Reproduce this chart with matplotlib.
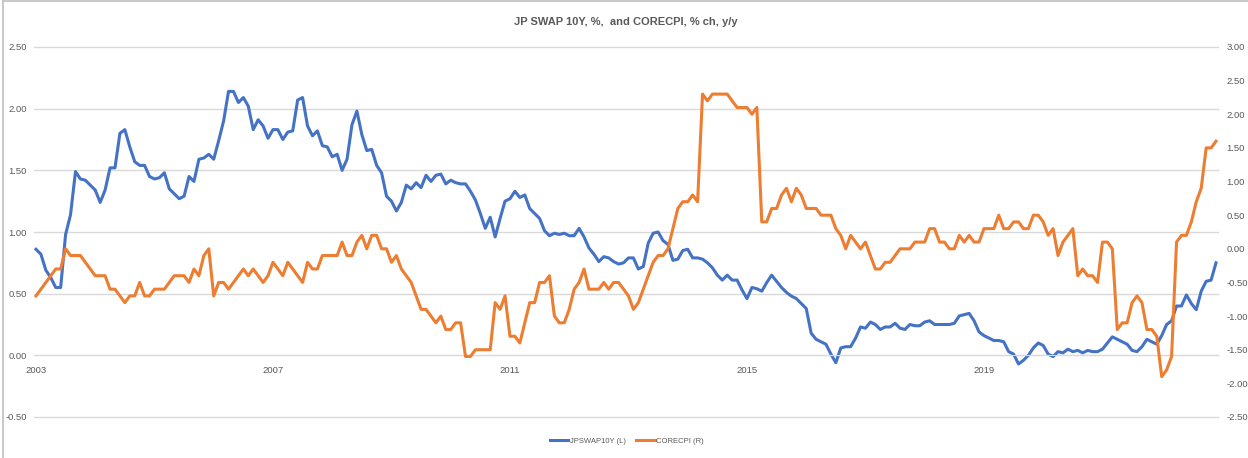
import numpy as np
import pandas as pd
import matplotlib
matplotlib.use("Agg")
import matplotlib.pyplot as plt
from matplotlib.lines import Line2D
from matplotlib.ticker import FormatStrFormatter

# --------------------------------------------------
# DATOS (mensuales, ene-2003 .. dic-2022)
# --------------------------------------------------
months = pd.date_range("2003-01-01", periods=240, freq="MS")

jpswap10y = [
    0.86, 0.82, 0.69, 0.63, 0.55, 0.55, 0.98, 1.14, 1.49, 1.43, 1.42, 1.38,
    1.34, 1.24, 1.34, 1.52, 1.52, 1.80, 1.83, 1.69, 1.57, 1.54, 1.54, 1.45,
    1.43, 1.44, 1.48, 1.35, 1.31, 1.27, 1.29, 1.45, 1.41, 1.59, 1.60, 1.63,
    1.59, 1.74, 1.90, 2.14, 2.14, 2.05, 2.09, 2.02, 1.83, 1.91, 1.86, 1.76,
    1.83, 1.83, 1.75, 1.81, 1.82, 2.07, 2.09, 1.86, 1.78, 1.82, 1.70, 1.69,
    1.61, 1.63, 1.50, 1.59, 1.87, 1.98, 1.79, 1.66, 1.67, 1.54, 1.48, 1.29,
    1.25, 1.17, 1.24, 1.38, 1.35, 1.40, 1.36, 1.46, 1.41, 1.46, 1.47, 1.39,
    1.42, 1.40, 1.39, 1.39, 1.33, 1.26, 1.15, 1.03, 1.12, 0.96, 1.11, 1.25,
    1.27, 1.33, 1.28, 1.30, 1.19, 1.15, 1.11, 1.01, 0.97, 0.99, 0.98, 0.99,
    0.97, 0.97, 1.03, 0.96, 0.87, 0.82, 0.76, 0.80, 0.79, 0.76, 0.74, 0.75,
    0.79, 0.79, 0.70, 0.72, 0.91, 0.99, 1.00, 0.93, 0.90, 0.77, 0.78, 0.85,
    0.86, 0.79, 0.79, 0.78, 0.75, 0.71, 0.65, 0.61, 0.65, 0.61, 0.61, 0.53,
    0.46, 0.55, 0.54, 0.52, 0.59, 0.65, 0.60, 0.55, 0.51, 0.48, 0.46, 0.42,
    0.38, 0.18, 0.13, 0.11, 0.09, 0.01, -0.06, 0.06, 0.07, 0.07, 0.14, 0.23,
    0.22, 0.27, 0.25, 0.21, 0.23, 0.23, 0.26, 0.22, 0.21, 0.25, 0.24, 0.24,
    0.27, 0.28, 0.25, 0.25, 0.25, 0.25, 0.26, 0.32, 0.33, 0.34, 0.28, 0.19,
    0.16, 0.14, 0.12, 0.12, 0.11, 0.03, 0.01, -0.07, -0.04, 0.00, 0.06, 0.10,
    0.08, 0.01, -0.01, 0.03, 0.02, 0.05, 0.03, 0.04, 0.02, 0.04, 0.03, 0.03,
    0.05, 0.10, 0.15, 0.13, 0.11, 0.09, 0.04, 0.03, 0.07, 0.13, 0.11, 0.09,
    0.16, 0.25, 0.28, 0.40, 0.40, 0.49, 0.42, 0.37, 0.52, 0.60, 0.61, 0.75,
]

corecpi = [
    -0.7, -0.6, -0.5, -0.4, -0.3, -0.3, 0.0, -0.1, -0.1, -0.1, -0.2, -0.3,
    -0.4, -0.4, -0.4, -0.6, -0.6, -0.7, -0.8, -0.7, -0.7, -0.5, -0.7, -0.7,
    -0.6, -0.6, -0.6, -0.5, -0.4, -0.4, -0.4, -0.5, -0.3, -0.4, -0.1, 0.0,
    -0.7, -0.5, -0.5, -0.6, -0.5, -0.4, -0.3, -0.4, -0.3, -0.4, -0.5, -0.4,
    -0.2, -0.3, -0.4, -0.2, -0.3, -0.4, -0.5, -0.2, -0.3, -0.3, -0.1, -0.1,
    -0.1, -0.1, 0.1, -0.1, -0.1, 0.1, 0.2, 0.0, 0.2, 0.2, 0.0, 0.0,
    -0.2, -0.1, -0.3, -0.4, -0.5, -0.7, -0.9, -0.9, -1.0, -1.1, -1.0, -1.2,
    -1.2, -1.1, -1.1, -1.6, -1.6, -1.5, -1.5, -1.5, -1.5, -0.8, -0.9, -0.7,
    -1.3, -1.3, -1.4, -1.1, -0.8, -0.8, -0.5, -0.5, -0.4, -1.0, -1.1, -1.1,
    -0.9, -0.6, -0.5, -0.3, -0.6, -0.6, -0.6, -0.5, -0.6, -0.5, -0.5, -0.6,
    -0.7, -0.9, -0.8, -0.6, -0.4, -0.2, -0.1, -0.1, 0.0, 0.3, 0.6, 0.7,
    0.7, 0.8, 0.7, 2.3, 2.2, 2.3, 2.3, 2.3, 2.3, 2.2, 2.1, 2.1,
    2.1, 2.0, 2.1, 0.4, 0.4, 0.6, 0.6, 0.8, 0.9, 0.7, 0.9, 0.8,
    0.6, 0.6, 0.6, 0.5, 0.5, 0.5, 0.3, 0.2, 0.0, 0.2, 0.1, 0.0,
    0.1, -0.1, -0.3, -0.3, -0.2, -0.2, -0.1, 0.0, 0.0, 0.0, 0.1, 0.1,
    0.1, 0.3, 0.3, 0.1, 0.1, 0.0, 0.0, 0.2, 0.1, 0.2, 0.1, 0.1,
    0.3, 0.3, 0.3, 0.5, 0.3, 0.3, 0.4, 0.4, 0.3, 0.3, 0.5, 0.5,
    0.4, 0.2, 0.3, -0.1, 0.1, 0.2, 0.3, -0.4, -0.3, -0.4, -0.4, -0.5,
    0.1, 0.1, 0.0, -1.2, -1.1, -1.1, -0.8, -0.7, -0.8, -1.2, -1.2, -1.3,
    -1.9, -1.8, -1.6, 0.1, 0.2, 0.2, 0.4, 0.7, 0.9, 1.5, 1.5, 1.6,
]

year_labels = ["2003", "2007", "2011", "2015", "2019"]

# --------------------------------------------------
# ESTILO
# --------------------------------------------------
plt.rcParams['font.family'] = ['Liberation Sans', 'DejaVu Sans']
GRIS_TXT  = '#595959'
GRIS_GRID = '#D9D9D9'
AZUL      = '#4472C4'
NARANJA   = '#ED7D31'

W, H = 1248, 458
fig = plt.figure(figsize=(W / 100, H / 100), dpi=100)
fig.patch.set_facecolor('white')

ax  = fig.add_axes([34 / W, 1 - 417 / H, (1218 - 34) / W, 370 / H])
ax2 = ax.twinx()

x = np.arange(len(months))
ax.plot(x, jpswap10y, color=AZUL, lw=2.2, label='JPSWAP10Y (L)',
        solid_joinstyle='round')
ax2.plot(x, corecpi, color=NARANJA, lw=2.2, label='CORECPI (R)',
         solid_joinstyle='round')

# -- ejes Y --
ax.set_ylim(-0.5, 2.5)
ax.set_yticks(np.arange(-0.5, 2.51, 0.5))
ax.yaxis.set_major_formatter(FormatStrFormatter('%.2f'))
ax2.set_ylim(-2.5, 3.0)
ax2.set_yticks(np.arange(-2.5, 3.01, 0.5))
ax2.yaxis.set_major_formatter(FormatStrFormatter('%.2f'))

ax.grid(axis='y', color=GRIS_GRID, lw=1.0)
for gl in ax.get_ygridlines():
    gl.set_clip_on(False)
ax.set_axisbelow(True)

# -- eje X (categorías), cruza en 0 --
pos = [i for i, d in enumerate(months) if d.month == 1 and (d.year - 2003) % 4 == 0]
ax.set_xticks(pos)
ax.set_xticklabels(year_labels)
ax.set_xlim(-0.4, len(months) - 0.6)
ax.spines['bottom'].set_position(('data', 0))
ax.spines['bottom'].set_color(GRIS_GRID)

for a in (ax, ax2):
    for s in ('top', 'left', 'right'):
        a.spines[s].set_visible(False)
ax2.spines['bottom'].set_visible(False)

ax.tick_params(axis='x', length=0, pad=8, labelsize=6.8, labelcolor=GRIS_TXT)
ax.tick_params(axis='y', length=0, pad=5, labelsize=6.8, labelcolor=GRIS_TXT)
ax2.tick_params(axis='y', length=0, pad=6, labelsize=6.8, labelcolor=GRIS_TXT)

# -- título --
fig.text(626 / W, 1 - 22 / H, 'JP SWAP 10Y, %,  and CORECPI, % ch, y/y',
         ha='center', va='center', fontsize=8, fontweight='bold', color=GRIS_TXT)

# -- leyenda --
h1, l1 = ax.get_legend_handles_labels()
h2, l2 = ax2.get_legend_handles_labels()
fig.legend(h1 + h2, l1 + l2, loc='center', bbox_to_anchor=(627 / W, 1 - 441 / H),
           ncol=2, frameon=False, fontsize=5.5, labelcolor=GRIS_TXT,
           handlelength=2.4, handletextpad=0.2, columnspacing=1.4)

# -- borde del gráfico --
fig.add_artist(Line2D([2.5 / W, 2.5 / W], [0, 1 - 1 / H], color='#BFBFBF', lw=1.2))
fig.add_artist(Line2D([2.5 / W, 1], [1 - 1 / H, 1 - 1 / H], color='#BFBFBF', lw=1.2))

fig.savefig('out.png', dpi=100)
